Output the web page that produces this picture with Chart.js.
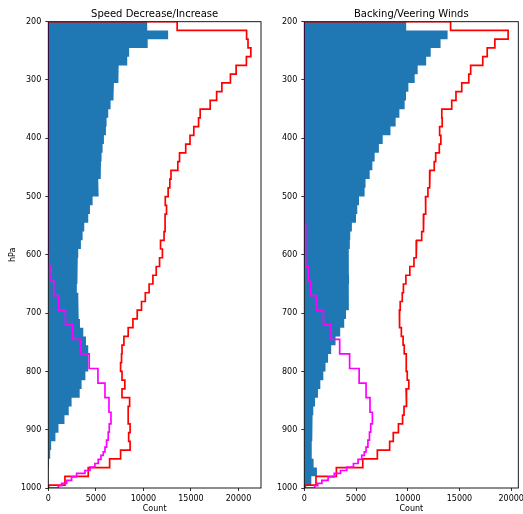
<!DOCTYPE html>
<html>
<head>
<meta charset="utf-8">
<script src="https://cdn.jsdelivr.net/npm/chart.js@4.4.1/dist/chart.umd.min.js"></script>
<style>
  html, body { margin: 0; padding: 0; background: #fff; }
  #wrap { position: relative; width: 523px; height: 514px; overflow: hidden; }
  canvas { position: absolute; top: 0; }
  #speedChart { left: 0; }
  #veerChart { left: 262px; }
</style>
</head>
<body>
<div id="wrap">
  <canvas id="speedChart" width="270" height="514"></canvas>
  <canvas id="veerChart" width="261" height="514"></canvas>
</div>
<script>
// pressure bin edges (hPa) for the blue and red histograms
const pressureEdges = [200, 215, 230, 245, 260, 275, 290, 305, 320, 335, 350, 365, 380, 395, 410, 425,
  440, 455, 470, 485, 500, 515, 530, 545, 560, 575, 590, 605, 620, 635, 650, 665, 680, 695, 710, 725,
  740, 755, 770, 785, 800, 815, 830, 845, 860, 875, 890, 905, 920, 935, 950, 965, 980, 995, 1000];

// bin edges of the magenta histogram
const magentaEdges = [200, 495, 520, 545, 570, 595, 620, 645, 670, 695, 720, 745, 770, 795, 820, 845,
  870, 890, 904, 918, 930, 938, 944, 951, 958, 964, 970, 975, 981, 987, 992, 996, 1000];

const xTicks = [0, 5000, 10000, 15000, 20000];
const yTicks = [200, 300, 400, 500, 600, 700, 800, 900, 1000];

// Speed Decrease/Increase
const speedCounts = [10400, 12600, 10450, 8500, 8300, 7400, 7350, 6900, 6830, 6550,
  6300, 6130, 6060, 5850, 5710, 5600, 5540, 5500, 5250, 5320,
  4660, 4380, 4200, 3780, 3610, 3430, 3150, 3100, 3050, 3050,
  3000, 3150, 3200, 3220, 3330, 3680, 3960, 4200, 4200, 4200,
  3900, 3500, 3300, 2450, 2150, 1700, 1070, 750, 300, 200,
  80, 30, 10, 0];
const speedRed = [13550, 20850, 21000, 21300, 20830, 19750, 19150, 18250, 17700, 17020,
  15970, 15800, 15300, 14900, 14450, 13800, 13620, 12900, 12780, 12600,
  12300, 12430, 12280, 12280, 12170, 11800, 12000, 11700, 11350, 11000,
  10600, 10200, 9800, 9350, 8900, 8400, 7950, 7750, 7700, 7600,
  7750, 8050, 7750, 8550, 8400, 8400, 8600, 8450, 8600, 7600,
  6450, 4200, 1750, 50];
const speedMagenta = [0, 20, 30, 40, 60, 80, 300, 570, 1100, 1800, 2540, 3420, 4300, 5220, 5960, 6380,
  6590, 6410, 6300, 6130, 5960, 5780, 5540, 5250, 4900, 4380, 3850, 2980, 2450, 1930, 1400, 1050];

// Backing/Veering Winds
const veerCounts = [9850, 13850, 13170, 12220, 11780, 10960, 10670, 10060, 9830, 9700,
  9190, 8830, 8330, 7580, 7210, 6800, 6580, 6320, 5920, 5830,
  5290, 5120, 5000, 4600, 4440, 4400, 4300, 4320, 4300, 4330,
  4300, 4320, 4300, 4030, 3860, 3470, 3020, 2600, 2300, 2050,
  1840, 1550, 1320, 1040, 870, 800, 780, 750, 720, 720,
  900, 1220, 680, 150];
const veerRed = [14140, 19700, 18420, 17680, 17250, 16080, 15900, 15220, 14660, 14250,
  13290, 13330, 13080, 13200, 13050, 12700, 12560, 12150, 12100, 11950,
  11720, 11740, 11550, 11500, 11350, 10860, 10800, 10600, 10200, 9820,
  9580, 9470, 9270, 9190, 9220, 9380, 9550, 9660, 9860, 9850,
  9950, 10100, 9840, 9900, 9640, 9500, 9100, 8600, 8250, 7060,
  5650, 3100, 1130, 100];
const veerMagenta = [0, 30, 50, 80, 120, 160, 380, 600, 1200, 1850, 2580, 3420, 4380, 5300, 5970, 6350,
  6580, 6420, 6300, 6150, 5970, 5800, 5550, 5200, 4750, 4100, 3500, 2900, 2300, 1700, 1300, 1000];

const tickFont = { family: 'DejaVu Sans', size: 8 };

// outline of a horizontal step histogram
function stepLine(edges, counts) {
  const pts = [{ x: 0, y: edges[0] }];
  counts.forEach((c, i) => {
    pts.push({ x: c, y: edges[i] });
    pts.push({ x: c, y: edges[i + 1] });
  });
  pts.push({ x: 0, y: edges[edges.length - 1] });
  return pts;
}

// box around the plot area, like matplotlib spines
const frame = {
  id: 'frame',
  afterDraw(chart) {
    const { ctx, chartArea: a } = chart;
    ctx.save();
    ctx.strokeStyle = '#000';
    ctx.lineWidth = 0.9;
    ctx.strokeRect(a.left, a.top, a.right - a.left, a.bottom - a.top);
    ctx.restore();
  }
};

function drawPanel(id, o) {
  const xMax = 1.05 * Math.max(...o.counts, ...o.red, ...o.magenta);
  return new Chart(document.getElementById(id), {
    type: 'scatter',
    data: {
      datasets: [
        { data: stepLine(pressureEdges, o.counts), showLine: true, fill: 'shape', backgroundColor: '#1f77b4',
          borderColor: 'rgba(0,0,0,0)', borderWidth: 0, pointRadius: 0, order: 2 },
        { data: stepLine(pressureEdges, o.red), showLine: true, fill: false, borderColor: '#ff0000',
          borderWidth: 1.7, pointRadius: 0, order: 1 },
        { data: stepLine(magentaEdges, o.magenta), showLine: true, fill: false, borderColor: '#ff00ff',
          borderWidth: 1.7, pointRadius: 0, order: 0 }
      ]
    },
    options: {
      responsive: false,
      animation: false,
      devicePixelRatio: 1,
      layout: { padding: { left: 0, right: o.padRight, top: 0, bottom: 0 } },
      plugins: {
        legend: { display: false },
        tooltip: { enabled: false },
        title: {
          display: true, text: o.title, fullSize: false, color: '#000',
          font: { family: 'DejaVu Sans', size: 10, weight: 'normal' },
          padding: { top: 8.3, bottom: 1.4 }
        }
      },
      scales: {
        x: {
          type: 'linear', min: 0, max: xMax,
          afterFit: s => { s.height = 26; s.paddingLeft = 0; s.paddingRight = 0; },
          afterBuildTicks: s => { s.ticks = xTicks.map(v => ({ value: v })); },
          ticks: { autoSkip: false, maxRotation: 0, padding: 3, color: '#000', font: tickFont, callback: v => String(v) },
          grid: { drawOnChartArea: false, drawTicks: true, tickLength: 3, color: '#000', lineWidth: 0.8 },
          border: { display: false },
          title: { display: true, text: 'Count', color: '#000', font: tickFont, padding: { top: 0, bottom: 0.5 } }
        },
        y: {
          type: 'linear', reverse: true, min: 200, max: 1000,
          afterFit: s => { s.width = o.yWidth; s.paddingTop = 0; s.paddingBottom = 0; },
          afterBuildTicks: s => { s.ticks = yTicks.map(v => ({ value: v })); },
          ticks: { autoSkip: false, padding: 4, color: '#000', font: tickFont, callback: v => String(v) },
          grid: { drawOnChartArea: false, drawTicks: true, tickLength: 3, color: '#000', lineWidth: 0.8 },
          border: { display: false },
          title: { display: o.yTitle, text: 'hPa', color: '#000', font: tickFont, padding: { top: 8.5, bottom: 0 } }
        }
      }
    },
    plugins: [frame]
  });
}

drawPanel('speedChart', {
  title: 'Speed Decrease/Increase', counts: speedCounts, red: speedRed, magenta: speedMagenta,
  yWidth: 48.3, padRight: 9, yTitle: true
});
drawPanel('veerChart', {
  title: 'Backing/Veering Winds', counts: veerCounts, red: veerRed, magenta: veerMagenta,
  yWidth: 42.3, padRight: 4.7, yTitle: false
});
</script>
</body>
</html>
